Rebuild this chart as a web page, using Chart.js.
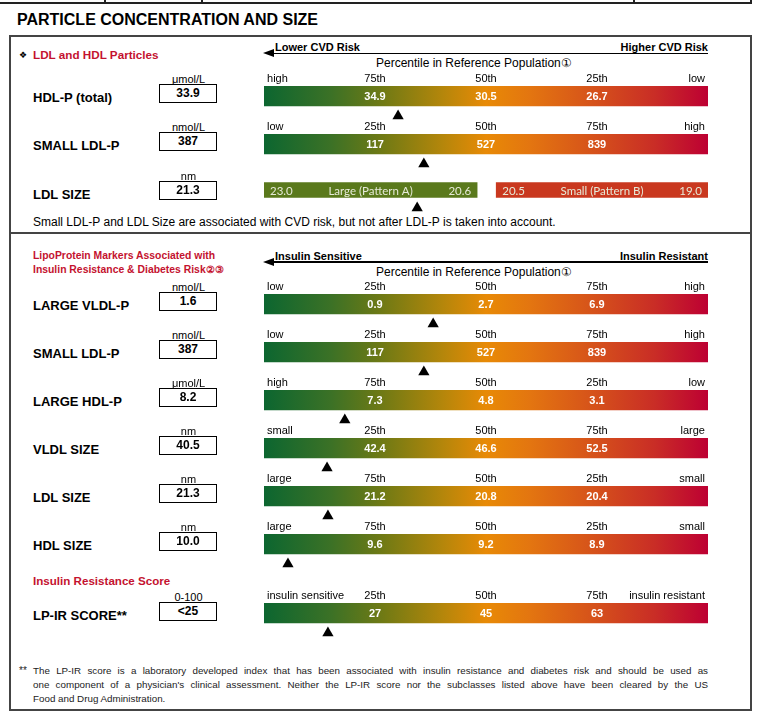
<!DOCTYPE html>
<html>
<head>
<meta charset="utf-8">
<script src="https://cdn.jsdelivr.net/npm/chart.js@4.4.1/dist/chart.umd.min.js"></script>
<style>
  body { margin: 0; background: #fff; font-family: "Liberation Sans", Arial, sans-serif; color: #000; }
  #page { position: relative; width: 760px; height: 715px; overflow: hidden; }
  .t { position: absolute; white-space: nowrap; line-height: 16px; height: 16px; }
  .box { position: absolute; width: 56px; height: 17px; border: 1.5px solid #000; text-align: center;
         font-weight: bold; font-size: 12px; line-height: 17px; }
  .ln { position: absolute; background: #000; }
  .foot { position: absolute; left: 33px; width: 675px; font-size: 9.8px; line-height: 14px; color: #222;
          text-align: justify; text-align-last: justify; white-space: nowrap; }
  canvas { position: absolute; }
</style>
</head>
<body>
<div id="page"></div>
<script>
// rows that use the percentile gradient bar
const rowNames   = ['HDL-P (total)', 'SMALL LDL-P', 'LARGE VLDL-P', 'SMALL LDL-P', 'LARGE HDL-P', 'VLDL SIZE', 'LDL SIZE', 'HDL SIZE', 'LP-IR SCORE**'];
const rowUnits   = ['μmol/L', 'nmol/L', 'nmol/L', 'nmol/L', 'μmol/L', 'nm', 'nm', 'nm', '0-100'];
const rowResults = ['33.9', '387', '1.6', '387', '8.2', '40.5', '21.3', '10.0', '<25'];
const rowTicks = [
  ['high', '75th', '50th', '25th', 'low'],
  ['low', '25th', '50th', '75th', 'high'],
  ['low', '25th', '50th', '75th', 'high'],
  ['low', '25th', '50th', '75th', 'high'],
  ['high', '75th', '50th', '25th', 'low'],
  ['small', '25th', '50th', '75th', 'large'],
  ['large', '75th', '50th', '25th', 'small'],
  ['large', '75th', '50th', '25th', 'small'],
  ['insulin sensitive', '25th', '50th', '75th', 'insulin resistant']
];
const rowCutoffs = [
  ['34.9', '30.5', '26.7'],
  ['117', '527', '839'],
  ['0.9', '2.7', '6.9'],
  ['117', '527', '839'],
  ['7.3', '4.8', '3.1'],
  ['42.4', '46.6', '52.5'],
  ['21.2', '20.8', '20.4'],
  ['9.6', '9.2', '8.9'],
  ['27', '45', '63']
];
// where the result marker sits on the 0-100 percentile bar
const rowMarker = [30.2, 36, 38.1, 36, 18.2, 14.2, 14.4, 5.4, 14.4];
const tickPositions = [0, 25, 50, 75, 100];

// LDL size pattern row (first section)
const ldlSizeResult = '21.3';
const patternNames = ['Large (Pattern A)', 'Small (Pattern B)'];
const patternRanges = [[0, 48], [52.3, 100]];
const patternEnds = [['23.0', '20.6'], ['20.5', '19.0']];
const patternMarker = 34.5;

// layout
const rowBarTop = [86, 134, 294, 342, 390, 438, 486, 534, 603];
const rowBoxTop = [84, 132, 292, 340, 388, 436, 484, 532, 602];
const BAR_LEFT = 264, BAR_W = 444;
const RED = '#c4122f';
const gradStops = [[0, '#0c6630'], [0.15, '#3b7126'], [0.27, '#717a14'], [0.4, '#b3860b'], [0.5, '#e88a06'],
                   [0.6, '#e37510'], [0.75, '#d5501b'], [0.88, '#c92d26'], [1, '#bd0033']];
const FONT = '"Liberation Sans", Arial, sans-serif';

const page = document.getElementById('page');

function addText(x, cy, str, css, align) {
  const d = document.createElement('div');
  d.className = 't';
  d.textContent = str;
  d.style.top = (cy - 8) + 'px';
  if (align === 'right') d.style.right = (760 - x) + 'px';
  else if (align === 'center') { d.style.left = x + 'px'; d.style.transform = 'translateX(-50%)'; }
  else d.style.left = x + 'px';
  d.style.cssText += css || '';
  page.appendChild(d);
  return d;
}
function addLine(x, y, w, h, color) {
  const d = document.createElement('div');
  d.className = 'ln';
  d.style.cssText = `left:${x}px;top:${y}px;width:${w}px;height:${h}px;background:${color || '#000'}`;
  page.appendChild(d);
}
function addArrowHeader(cy, leftText, rightText) {
  addText(275, cy, leftText, 'font-weight:bold;font-size:11px;');
  addText(708, cy, rightText, 'font-weight:bold;font-size:11px;', 'right');
  addLine(270, cy + 5.5, 438, 1.5);
  const a = document.createElement('div');
  a.style.cssText = `position:absolute;left:263px;top:${cy + 2}px;width:0;height:0;` +
    'border-top:4.5px solid transparent;border-bottom:4.5px solid transparent;border-right:11px solid #000;';
  page.appendChild(a);
}
function addResult(name, unit, result, boxTop) {
  addText(33, boxTop + 14, name, 'font-weight:bold;font-size:13px;');
  addText(188.5, boxTop - 5.5, unit, 'font-size:11px;', 'center');
  const b = document.createElement('div');
  b.className = 'box';
  b.style.left = '159px';
  b.style.top = boxTop + 'px';
  b.textContent = result;
  page.appendChild(b);
}

// frame and headings
addLine(0, 2, 752, 1.5, '#222');
[104, 201, 633, 750].forEach(x => addLine(x, 0, 1.5, 3, '#222'));
addText(17, 20, 'PARTICLE CONCENTRATION AND SIZE', 'font-weight:bold;font-size:16px;');
addLine(9, 35, 743, 2, '#444');
addLine(9, 35, 2, 676, '#444');
addLine(750, 35, 2, 676, '#444');
addLine(9, 232, 743, 2, '#444');
addLine(9, 709, 743, 2, '#444');

addText(19, 55, '❖', 'font-size:9px;font-family:"DejaVu Sans";');
addText(33, 55, 'LDL and HDL Particles', `font-weight:bold;font-size:11.7px;color:${RED};`);
addArrowHeader(47, 'Lower CVD Risk', 'Higher CVD Risk');
addText(376, 63, 'Percentile in Reference Population①', 'font-size:12px;');

addText(33, 256, 'LipoProtein Markers Associated with', `font-weight:bold;font-size:10.4px;color:${RED};`);
addText(33, 270, 'Insulin Resistance & Diabetes Risk②③', `font-weight:bold;font-size:10.4px;color:${RED};`);
addArrowHeader(255.5, 'Insulin Sensitive', 'Insulin Resistant');
addText(376, 272, 'Percentile in Reference Population①', 'font-size:12px;');
addText(33, 581, 'Insulin Resistance Score', `font-weight:bold;font-size:11.6px;color:${RED};`);

addText(33, 222, 'Small LDL-P and LDL Size are associated with CVD risk, but not after LDL-P is taken into account.', 'font-size:12px;');

const footLines = [
  'The LP-IR score is a laboratory developed index that has been associated with insulin resistance and diabetes risk and should be used as',
  "one component of a physician's clinical assessment. Neither the LP-IR score nor the subclasses listed above have been cleared by the US",
  'Food and Drug Administration.'
];
addText(19, 671, '**', 'font-size:10px;color:#222;');
footLines.forEach((s, i) => {
  const d = document.createElement('div');
  d.className = 'foot';
  d.style.top = (664 + i * 14) + 'px';
  if (i === footLines.length - 1) d.style.textAlignLast = 'left';
  d.textContent = s;
  page.appendChild(d);
});

// chart helpers
function gradientFill(ctx) {
  const area = ctx.chart.chartArea;
  if (!area) return '#888';
  const g = ctx.chart.ctx.createLinearGradient(area.left, 0, area.right, 0);
  gradStops.forEach(s => g.addColorStop(s[0], s[1]));
  return g;
}

const barTexts = {
  id: 'barTexts',
  afterDatasetsDraw(chart, args, opts) {
    const { ctx } = chart;
    const xs = chart.scales.x, ys = chart.scales.y;
    const yc = ys.getPixelForValue(0);
    ctx.save();
    ctx.textBaseline = 'middle';
    (opts.items || []).forEach(it => {
      ctx.font = it.font;
      ctx.fillStyle = it.color;
      ctx.textAlign = it.align;
      ctx.fillText(it.text, xs.getPixelForValue(it.at) + (it.dx || 0), yc + 1);
    });
    ctx.restore();
  }
};

function makeCanvas(top, height) {
  const c = document.createElement('canvas');
  c.style.left = BAR_LEFT + 'px';
  c.style.top = top + 'px';
  c.style.width = BAR_W + 'px';
  c.style.height = height + 'px';
  c.width = BAR_W;
  c.height = height;
  page.appendChild(c);
  return c;
}

const AXIS_H = 16;

function gradientRow(i) {
  const canvas = makeCanvas(rowBarTop[i] - AXIS_H, AXIS_H + 40);
  const labels = rowTicks[i];
  new Chart(canvas, {
    type: 'bar',
    data: {
      labels: ['bar', 'mark'],
      datasets: [
        {
          data: [[0, 100], null],
          backgroundColor: gradientFill,
          barThickness: 20,
          borderWidth: 0,
          borderSkipped: false
        },
        {
          type: 'scatter',
          data: [{ x: rowMarker[i], y: 'mark' }],
          pointStyle: 'triangle',
          pointRadius: 6.5,
          backgroundColor: '#000',
          borderWidth: 0,
          clip: false
        }
      ]
    },
    options: {
      indexAxis: 'y',
      responsive: false,
      animation: false,
      events: [],
      layout: { padding: 0, autoPadding: false },
      plugins: {
        legend: { display: false },
        tooltip: { enabled: false },
        barTexts: {
          items: rowCutoffs[i].map((v, k) => ({
            text: v, at: tickPositions[k + 1], align: 'center', color: '#fff', font: 'bold 11px ' + FONT
          }))
        }
      },
      scales: {
        x: {
          type: 'linear',
          position: 'top',
          min: 0,
          max: 100,
          afterBuildTicks: s => { s.ticks = tickPositions.map(v => ({ value: v })); },
          afterFit: s => { s.height = AXIS_H; },
          ticks: {
            align: 'inner',
            autoSkip: false,
            maxRotation: 0,
            padding: 0,
            color: '#000',
            font: { family: FONT, size: 11 },
            // small inset for the end labels, as on the printed report
            callback: (v, k) => k === 0 ? ' ' + labels[k] : (k === labels.length - 1 ? labels[k] + ' ' : labels[k])
          },
          grid: { display: false, drawTicks: false },
          border: { display: false }
        },
        y: { display: false }
      }
    },
    plugins: [barTexts]
  });
}

function patternRow(barTop) {
  const canvas = makeCanvas(barTop - 1.5, 36);
  const fills = ['#5a791c', '#c9381f'];
  const items = [];
  const f = '11.5px Lato, ' + FONT;
  patternRanges.forEach((r, k) => {
    items.push({ text: patternEnds[k][0], at: r[0], dx: 6, align: 'left', color: '#e6ead8', font: f });
    items.push({ text: patternNames[k], at: (r[0] + r[1]) / 2, align: 'center', color: '#e6ead8', font: f });
    items.push({ text: patternEnds[k][1], at: r[1], dx: -6, align: 'right', color: '#e6ead8', font: f });
  });
  new Chart(canvas, {
    type: 'bar',
    data: {
      labels: ['bar', 'mark'],
      datasets: patternRanges.map((r, k) => ({
        data: [r, null],
        backgroundColor: fills[k],
        barThickness: 15,
        borderWidth: 0,
        borderSkipped: false,
        grouped: false
      })).concat([{
        type: 'scatter',
        data: [{ x: patternMarker, y: 'mark' }],
        pointStyle: 'triangle',
        pointRadius: 6.5,
        backgroundColor: '#000',
        borderWidth: 0,
        clip: false
      }])
    },
    options: {
      indexAxis: 'y',
      responsive: false,
      animation: false,
      events: [],
      layout: { padding: 0, autoPadding: false },
      plugins: { legend: { display: false }, tooltip: { enabled: false }, barTexts: { items } },
      scales: {
        x: { type: 'linear', min: 0, max: 100, display: false },
        y: { display: false }
      }
    },
    plugins: [barTexts]
  });
}

// build rows
rowNames.forEach((name, i) => {
  addResult(name, rowUnits[i], rowResults[i], rowBoxTop[i]);
  gradientRow(i);
});
addResult('LDL SIZE', 'nm', ldlSizeResult, 181);
patternRow(182);
</script>
</body>
</html>
